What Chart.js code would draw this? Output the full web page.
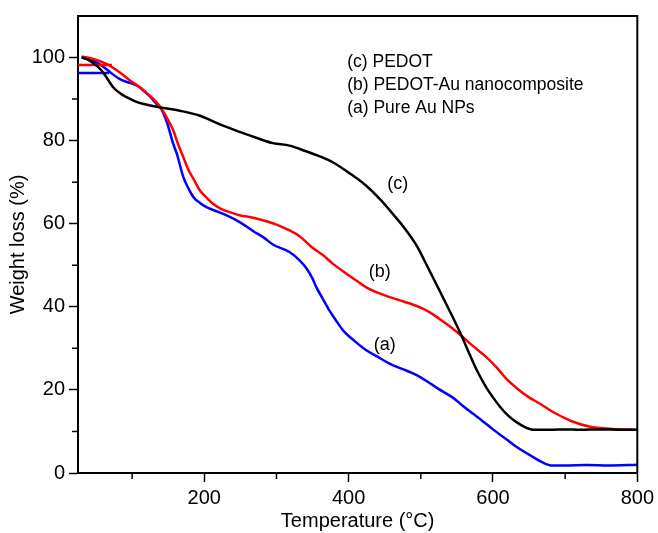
<!DOCTYPE html>
<html>
<head>
<meta charset="utf-8">
<script src="https://cdn.jsdelivr.net/npm/chart.js@4/dist/chart.umd.min.js"></script>
<style>
  html, body { margin: 0; padding: 0; background: #fff; }
  #wrap { width: 658px; height: 533px; position: relative; }
</style>
</head>
<body>
<div id="wrap"><canvas id="tga"></canvas></div>
<script>
"use strict";

// (c) PEDOT
const tempC = [30, 40, 51, 57, 63, 74, 85, 93, 105, 116, 139, 166, 194, 210, 226, 249, 275, 295, 318, 340, 360, 378, 400, 424, 445, 461, 478, 495, 510, 521, 532, 544, 556, 567, 578, 590, 600, 610, 620, 632, 645, 657, 680, 700, 720, 750, 780, 800];
const weightC = [100, 99.4, 98, 97, 95.6, 92.8, 91.2, 90.4, 89.4, 88.8, 88, 87.2, 86, 84.8, 83.6, 82.1, 80.5, 79.4, 78.8, 77.5, 76.2, 74.8, 72.3, 69.2, 65.6, 62.4, 58.8, 54.5, 49.4, 45.6, 41.8, 37.6, 33.2, 28.8, 24.6, 20.8, 18.2, 15.9, 14, 12.3, 11, 10.4, 10.4, 10.5, 10.4, 10.5, 10.4, 10.4];

// (b) PEDOT-Au nanocomposite
const tempB = [30, 45, 65, 83, 97, 111, 122, 134, 145, 152, 157, 163, 171, 178, 185, 194, 203, 212, 223, 235, 250, 263, 286, 300, 318, 332, 350, 364, 378, 395, 410, 425, 440, 456, 470, 485, 502, 513, 525, 544, 555, 572, 590, 605, 618, 636, 650, 664, 682, 695, 710, 733, 765, 800];
const weightB = [100.2, 99.7, 98.4, 96.4, 94.5, 92.8, 91.2, 89.2, 86.5, 84.2, 82.5, 79.5, 76, 73, 70.8, 68, 66.3, 64.8, 63.6, 62.8, 62, 61.6, 60.6, 59.8, 58.4, 57, 54.2, 52.5, 50.4, 48.2, 46.4, 44.6, 43.4, 42.4, 41.6, 40.8, 39.6, 38.6, 37.2, 34.8, 33.2, 30.6, 28, 25.4, 22.8, 20, 18.2, 16.8, 14.8, 13.6, 12.4, 11.2, 10.6, 10.4];
const stubTempB = [25, 72];
const stubWeightB = [98.2, 98.2];

// (a) Pure Au NPs
const tempA = [30, 40, 51, 60, 70, 83, 95, 102, 111, 116, 125, 134, 139, 148, 157, 162, 171, 178, 185, 194, 203, 217, 231, 249, 268, 283, 295, 318, 332, 341, 350, 355, 364, 373, 383, 392, 408, 424, 440, 456, 472, 489, 498, 511, 525, 544, 558, 572, 585, 600, 618, 635, 654, 668, 682, 700, 730, 760, 800];
const weightA = [100.2, 99.6, 98.8, 97.8, 96.4, 94.8, 94, 93.6, 92.8, 92, 90.6, 88.8, 88, 84.5, 79.2, 76.8, 71.2, 68.5, 66.4, 65, 64, 63, 62, 60.4, 58.2, 56.6, 55, 53.2, 51.2, 49.4, 46.8, 44.8, 42, 39.2, 36.6, 34.4, 31.8, 29.6, 28, 26.4, 25.2, 24, 23.2, 21.8, 20.2, 18.2, 16.2, 14.3, 12.6, 10.5, 8.2, 6, 4, 2.6, 1.8, 1.8, 1.9, 1.8, 2];
const stubTempA = [25, 68];
const stubWeightA = [96.3, 96.3];

const xTicks = [200, 400, 600, 800];
const xMinorTicks = [100, 300, 500, 700];
const yMinorTicks = [10, 30, 50, 70, 90];

const legendLines = ["(c) PEDOT", "(b) PEDOT-Au nanocomposite", "(a) Pure Au NPs"];
const curveLabels = ["(c)", "(b)", "(a)"];
const curveLabelX = [468, 443, 450];
const curveLabelY = [69.6, 48.4, 30.8];

function toPoints(xs, ys) {
  return xs.map((x, i) => ({ x: x, y: ys[i] }));
}

function lineSet(label, xs, ys, color) {
  return {
    label: label,
    data: toPoints(xs, ys),
    borderColor: color,
    backgroundColor: color,
    borderWidth: 2.5,
    pointRadius: 0,
    cubicInterpolationMode: "monotone",
    fill: false,
  };
}

const fontName = "'Liberation Sans', Arial, Helvetica, sans-serif";

// frame, minor ticks and text notes
const extrasPlugin = {
  id: "extras",
  afterDraw(chart) {
    const ctx = chart.ctx;
    const area = chart.chartArea;
    const xs = chart.scales.x;
    const ys = chart.scales.y;
    ctx.save();
    ctx.strokeStyle = "#000";
    ctx.lineWidth = 2;
    ctx.beginPath();
    ctx.moveTo(area.left, area.top);
    ctx.lineTo(area.right, area.top);
    ctx.lineTo(area.right, area.bottom);
    ctx.stroke();

    ctx.lineWidth = 1.5;
    ctx.beginPath();
    for (const v of xMinorTicks) {
      const px = xs.getPixelForValue(v);
      ctx.moveTo(px, area.bottom);
      ctx.lineTo(px, area.bottom + 6);
    }
    for (const v of yMinorTicks) {
      const py = ys.getPixelForValue(v);
      ctx.moveTo(area.left, py);
      ctx.lineTo(area.left - 6, py);
    }
    ctx.stroke();

    ctx.fillStyle = "#000";
    ctx.font = "17.5px " + fontName;
    ctx.textAlign = "left";
    ctx.textBaseline = "middle";
    const legendX = xs.getPixelForValue(398);
    const legendY = ys.getPixelForValue(98.9);
    for (let i = 0; i < legendLines.length; i++) {
      ctx.fillText(legendLines[i], legendX, legendY + i * 23);
    }

    ctx.font = "18px " + fontName;
    ctx.textAlign = "center";
    for (let i = 0; i < curveLabels.length; i++) {
      ctx.fillText(curveLabels[i], xs.getPixelForValue(curveLabelX[i]), ys.getPixelForValue(curveLabelY[i]));
    }
    ctx.restore();
  },
};

const tgaChart = new Chart(document.getElementById("tga"), {
  type: "line",
  data: {
    datasets: [
      lineSet("PEDOT", tempC, weightC, "#000000"),
      lineSet("PEDOT-Au nanocomposite", tempB, weightB, "#ff0000"),
      lineSet("PEDOT-Au start", stubTempB, stubWeightB, "#ff0000"),
      lineSet("Pure Au NPs", tempA, weightA, "#0000ff"),
      lineSet("Pure Au start", stubTempA, stubWeightA, "#0000ff"),
    ],
  },
  options: {
    responsive: true,
    maintainAspectRatio: false,
    animation: false,
    layout: { padding: { left: 0, top: 15, right: 19, bottom: 0 } },
    plugins: {
      legend: { display: false },
      tooltip: { enabled: false },
    },
    scales: {
      x: {
        type: "linear",
        min: 25,
        max: 800,
        afterBuildTicks(scale) {
          scale.ticks = xTicks.map((v) => ({ value: v }));
        },
        afterFit(scale) {
          scale.height = 60;
        },
        grid: {
          drawOnChartArea: false,
          drawTicks: true,
          tickLength: 9,
          tickColor: "#000",
          tickWidth: 1.5,
        },
        border: { display: true, color: "#000", width: 2 },
        ticks: {
          color: "#000",
          padding: 4,
          maxRotation: 0,
          font: { family: fontName, size: 20 },
        },
        title: {
          display: true,
          text: "Temperature (°C)",
          color: "#000",
          padding: { top: 0, bottom: 0 },
          font: { family: fontName, size: 20 },
        },
      },
      y: {
        min: 0,
        max: 110,
        afterFit(scale) {
          scale.width = 78;
        },
        ticks: {
          stepSize: 20,
          includeBounds: false,
          color: "#000",
          padding: 4,
          font: { family: fontName, size: 20 },
        },
        grid: {
          drawOnChartArea: false,
          drawTicks: true,
          tickLength: 9,
          tickColor: "#000",
          tickWidth: 1.5,
        },
        border: { display: true, color: "#000", width: 2 },
        title: {
          display: true,
          text: "Weight loss (%)",
          color: "#000",
          padding: { top: 6, bottom: 0 },
          font: { family: fontName, size: 20 },
        },
      },
    },
  },
  plugins: [extrasPlugin],
});
</script>
</body>
</html>
